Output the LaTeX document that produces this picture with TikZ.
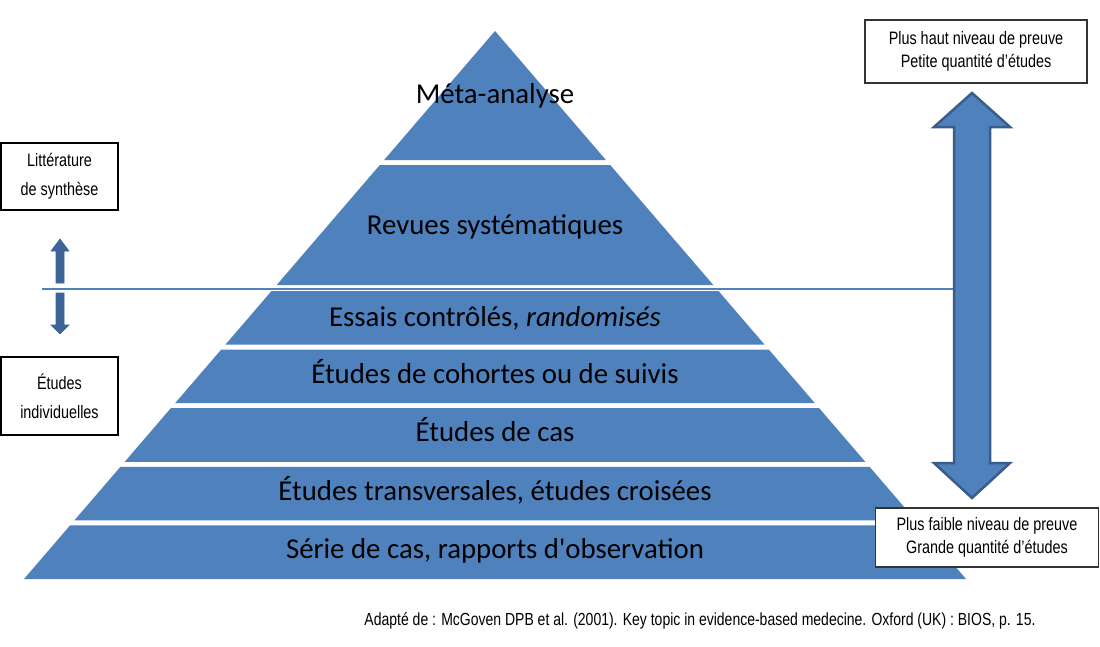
\documentclass[tikz,border=0pt]{standalone}
\usepackage{fontspec}
\setmainfont{Carlito}
\newfontfamily\pyrfont{Carlito}
\newfontfamily\narrowfont[FakeStretch=0.8]{Liberation Sans}
\definecolor{pyr}{HTML}{4F81BD}
\definecolor{pyrdark}{HTML}{385D8A}
\definecolor{smallarrow}{HTML}{3C6496}
\definecolor{boxgray}{HTML}{333333}
\begin{document}
\begin{tikzpicture}[x=1pt,y=-1pt,
  lbl/.style={font=\pyrfont\fontsize{28.8}{31}\selectfont, text=black, anchor=base, inner sep=0pt},
  boxl/.style={draw=black, line width=1.2pt, fill=white, align=center, inner sep=0pt,
    font=\narrowfont\fontsize{18}{29}\selectfont},
  boxr/.style={draw=boxgray, line width=1.5pt, fill=white, align=center, inner sep=0pt,
    font=\narrowfont\fontsize{18}{23}\selectfont},
  blockarrow/.style={fill=pyr, draw=pyrdark, line width=2.5pt, line join=miter},
  smallarr/.style={fill=smallarrow, draw=smallarrow, line width=0.6pt},
]
\useasboundingbox (0,0) rectangle (1100,646);
\fill[white] (0,0) rectangle (1100,646);

% pyramid
\fill[pyr] (495,31) -- (605.9,160) -- (384.1,160) -- cycle;
\foreach \ya/\yb in {165/285, 291/344.6, 349.6/403.2, 408.2/461.8, 466.8/520.4, 525.4/579}{
  \pgfmathsetmacro\wa{0.8595*(\ya-31)}
  \pgfmathsetmacro\wb{0.8595*(\yb-31)}
  \fill[pyr] ({495-\wa},\ya) -- ({495+\wa},\ya) -- ({495+\wb},\yb) -- ({495-\wb},\yb) -- cycle;
}

\node[lbl] (meta) at (495,103) {Méta-analyse};
\node[lbl] (rev) at (495,234) {Revues systématiques};
\node[lbl] (ess) at (495,326) {Essais contrôlés, \textit{randomisés}};
\node[lbl] (coh) at (495,383) {Études de cohortes ou de suivis};
\node[lbl] (cas) at (495,441.5) {Études de cas};
\node[lbl] (tra) at (495,500) {Études transversales, études croisées};
\node[lbl] (ser) at (495,558.5) {Série de cas, rapports d'observation};

% separating line
\draw[pyr, line width=1.6pt] (42,289) -- (953,289);

% small arrows
\draw[smallarr] (60,239) -- (69,251) -- (64,251) -- (64,283) -- (56,283) -- (56,251) -- (51,251) -- cycle;
\draw[smallarr] (60,334) -- (69,325) -- (64,325) -- (64,293) -- (56,293) -- (56,325) -- (51,325) -- cycle;

% big double arrow
\draw[blockarrow] (972,93) -- (1010,127) -- (990,127) -- (990,463) -- (1010,463) -- (972,498)
  -- (934,463) -- (954,463) -- (954,127) -- (934,127) -- cycle;

% boxes
\node[boxl, minimum width=117pt, minimum height=67pt] (lit) at (59.5,176.5) {Littérature\\de synthèse};
\node[boxl, minimum width=117pt, minimum height=78pt] (ind) at (59.5,396) {Études\\individuelles};
\node[boxr, minimum width=222pt, minimum height=63pt] (haut) at (976,51.5) {Plus haut niveau de preuve\\Petite quantité d’études};
\node[boxr, minimum width=223pt, minimum height=59pt] (bas) at (987,537.5) {Plus faible niveau de preuve\\Grande quantité d’études};

% source
\node[font=\narrowfont\fontsize{17.5}{20}\selectfont, anchor=base, inner sep=0pt] (src) at (700,625)
  {Adapté de : McGoven DPB et al. (2001). Key topic in evidence-based medecine. Oxford (UK) : BIOS, p. 15.};
\end{tikzpicture}
\end{document}
